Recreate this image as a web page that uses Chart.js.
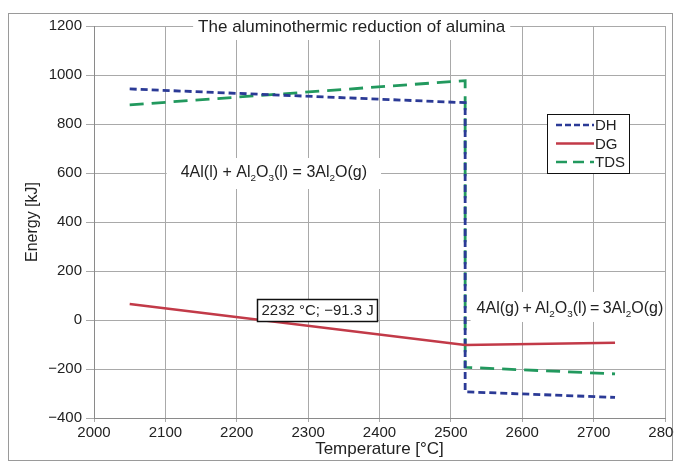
<!DOCTYPE html>
<html>
<head>
<meta charset="utf-8">
<script src="https://cdn.jsdelivr.net/npm/chart.js@4"></script>
<style>
html,body{margin:0;padding:0;background:#fff;}
#wrap{width:674px;height:470px;}
</style>
</head>
<body>
<div id="wrap"><canvas id="c" width="674" height="470"></canvas></div>
<script>
// ---- data ----
const seriesNames = ['DH', 'DG', 'TDS'];
const dhTemp = [2050, 2520, 2520, 2730];
const dhEnergy = [943, 887, -293, -316];
const dgTemp = [2050, 2520, 2730];
const dgEnergy = [65, -102, -93];
const tdsTemp = [2050, 2520, 2520, 2730];
const tdsEnergy = [878, 977, -193, -220];
const xTicks = [2000, 2100, 2200, 2300, 2400, 2500, 2600, 2700, 2800];
const yTicks = [-400, -200, 0, 200, 400, 600, 800, 1000, 1200];
const chartTitle = 'The aluminothermic reduction of alumina';
const xTitle = 'Temperature [°C]';
const yTitle = 'Energy [kJ]';
const eq1 = [['4Al(l) + Al',0],['2',1],['O',0],['3',1],['(l) = 3Al',0],['2',1],['O(g)',0]];
const eq2 = [['4Al(g)\u2009+\u2009Al',0],['2',1],['O',0],['3',1],['(l)\u2009=\u20093Al',0],['2',1],['O(g)',0]];
const markerLabel = '2232 °C; −91.3 J';

const pts = (xs, ys) => xs.map((x, i) => ({x: x, y: ys[i]}));
const FONT = '"Liberation Sans", Arial, sans-serif';
const colors = {DH: '#2b3a96', DG: '#c23a48', TDS: '#22995e'};
const dashes = {DH: [7, 4], DG: [], TDS: [14, 8]};

function richWidth(ctx, parts, size) {
  let w = 0;
  for (const [t, sub] of parts) {
    ctx.font = (sub ? size * 0.62 : size) + 'px ' + FONT;
    w += ctx.measureText(t).width;
  }
  return w;
}
function drawRich(ctx, parts, x, y, size) {
  ctx.textBaseline = 'middle';
  ctx.textAlign = 'left';
  for (const [t, sub] of parts) {
    ctx.font = (sub ? size * 0.62 : size) + 'px ' + FONT;
    ctx.fillText(t, x, sub ? y + size * 0.33 : y);
    x += ctx.measureText(t).width;
  }
}

const annot = {
  id: 'annot',
  beforeDraw(chart) {
    const ctx = chart.ctx;
    ctx.save();
    ctx.fillStyle = '#fff';
    ctx.fillRect(0, 0, chart.width, chart.height);
    ctx.strokeStyle = '#9a9a9a';
    ctx.lineWidth = 1;
    ctx.strokeRect(8.5, 13.5, 664, 447);
    ctx.restore();
  },
  afterDatasetsDraw(chart) {
    const ctx = chart.ctx;
    const xs = chart.scales.x, ys = chart.scales.y;
    ctx.save();
    ctx.fillStyle = '#222';
    // title
    ctx.font = '17px ' + FONT;
    const tw = ctx.measureText(chartTitle).width;
    const tx = xs.getPixelForValue(2361), ty = ys.getPixelForValue(1200);
    ctx.fillStyle = '#fff';
    ctx.fillRect(tx - tw / 2 - 5, ty - 10, tw + 10, 24);
    ctx.fillStyle = '#222';
    ctx.textAlign = 'center';
    ctx.textBaseline = 'middle';
    ctx.fillText(chartTitle, tx, ty + 1);
    // equation 1
    const s1 = 16;
    const w1 = richWidth(ctx, eq1, s1);
    const e1x = xs.getPixelForValue(2252), e1y = ys.getPixelForValue(600);
    ctx.fillStyle = '#fff';
    ctx.fillRect(e1x - w1 / 2 - 14, e1y - 15, w1 + 28, 31);
    ctx.fillStyle = '#222';
    drawRich(ctx, eq1, e1x - w1 / 2, e1y, s1);
    // equation 2
    const w2 = richWidth(ctx, eq2, s1);
    const e2x = xs.getPixelForValue(2536), e2y = ys.getPixelForValue(45);
    ctx.fillStyle = '#fff';
    ctx.fillRect(e2x - 6, e2y - 17, xs.right - e2x + 6, 30);
    ctx.fillStyle = '#222';
    drawRich(ctx, eq2, e2x, e2y, s1);
    // marker label box
    ctx.font = '15px ' + FONT;
    const mw = ctx.measureText(markerLabel).width;
    const mx = xs.getPixelForValue(2229), my = ys.getPixelForValue(40);
    ctx.fillStyle = '#fff';
    ctx.fillRect(mx, my - 11, mw + 8, 22);
    ctx.strokeStyle = '#111';
    ctx.lineWidth = 1.5;
    ctx.strokeRect(Math.round(mx) + 0.5, Math.round(my - 11) + 0.5, Math.round(mw + 8), 22);
    ctx.fillStyle = '#222';
    ctx.textAlign = 'left';
    ctx.textBaseline = 'middle';
    ctx.fillText(markerLabel, mx + 4, my + 1);
    // legend
    const lx = Math.round(xs.getPixelForValue(2634)), ly = Math.round(ys.getPixelForValue(841));
    const lw = 82, lh = 59;
    ctx.fillStyle = '#fff';
    ctx.fillRect(lx, ly, lw, lh);
    ctx.strokeStyle = '#111';
    ctx.lineWidth = 1;
    ctx.strokeRect(lx + 0.5, ly + 0.5, lw, lh);
    seriesNames.forEach((n, i) => {
      const yy = ly + 11 + i * 18.5;
      ctx.strokeStyle = colors[n];
      ctx.lineWidth = 2.5;
      ctx.setLineDash(n === 'DH' ? [6, 3] : n === 'TDS' ? [11, 6] : []);
      ctx.beginPath();
      ctx.moveTo(lx + 9, yy);
      ctx.lineTo(lx + 47, yy);
      ctx.stroke();
      ctx.setLineDash([]);
      ctx.fillStyle = '#222';
      ctx.font = '15px ' + FONT;
      ctx.textAlign = 'left';
      ctx.textBaseline = 'middle';
      ctx.fillText(n, lx + 48, yy + 1);
    });
    ctx.restore();
  }
};

const mkSet = (name, xsArr, ysArr) => ({
  label: name,
  data: pts(xsArr, ysArr),
  borderColor: colors[name],
  backgroundColor: colors[name],
  borderWidth: name === 'DG' ? 2.5 : 2.8,
  borderDash: dashes[name],
  pointRadius: 0,
  tension: 0,
  fill: false
});

new Chart(document.getElementById('c'), {
  type: 'line',
  data: {
    datasets: [
      mkSet('DG', dgTemp, dgEnergy),
      mkSet('DH', dhTemp, dhEnergy),
      mkSet('TDS', tdsTemp, tdsEnergy)
    ]
  },
  options: {
    responsive: false,
    animation: false,
    devicePixelRatio: 1,
    layout: {padding: {left: 0, right: 9, top: 26, bottom: 0}},
    plugins: {legend: {display: false}, tooltip: {enabled: false}, title: {display: false}},
    scales: {
      x: {
        type: 'linear', min: 2000, max: 2800,
        afterBuildTicks: s => { s.ticks = xTicks.map(v => ({value: v})); },
        afterFit: s => { s.height = 52; s.paddingLeft = 0; s.paddingRight = 0; },
        ticks: {color: '#222', font: {family: FONT, size: 15}, padding: 2, maxRotation: 0, autoSkip: false,
          callback: v => String(v)},
        grid: {color: '#a9a9a9', lineWidth: 1, tickLength: 4},
        border: {color: '#8a8a8a'},
        title: {display: true, text: xTitle, color: '#222', font: {family: FONT, size: 17}, padding: {top: 0, bottom: 10}}
      },
      y: {
        min: -400, max: 1200,
        afterBuildTicks: s => { s.ticks = yTicks.map(v => ({value: v})); },
        afterFit: s => { s.width = 94; s.paddingTop = 0; s.paddingBottom = 0; },
        ticks: {color: '#222', font: {family: FONT, size: 15}, padding: 4,
          callback: v => String(v).replace('-', '−')},
        grid: {color: '#a9a9a9', lineWidth: 1, tickLength: 8},
        border: {color: '#8a8a8a'},
        title: {display: true, text: yTitle, color: '#222', font: {family: FONT, size: 16}, padding: {top: 23, bottom: 0}}
      }
    }
  },
  plugins: [annot]
});
</script>
</body>
</html>
